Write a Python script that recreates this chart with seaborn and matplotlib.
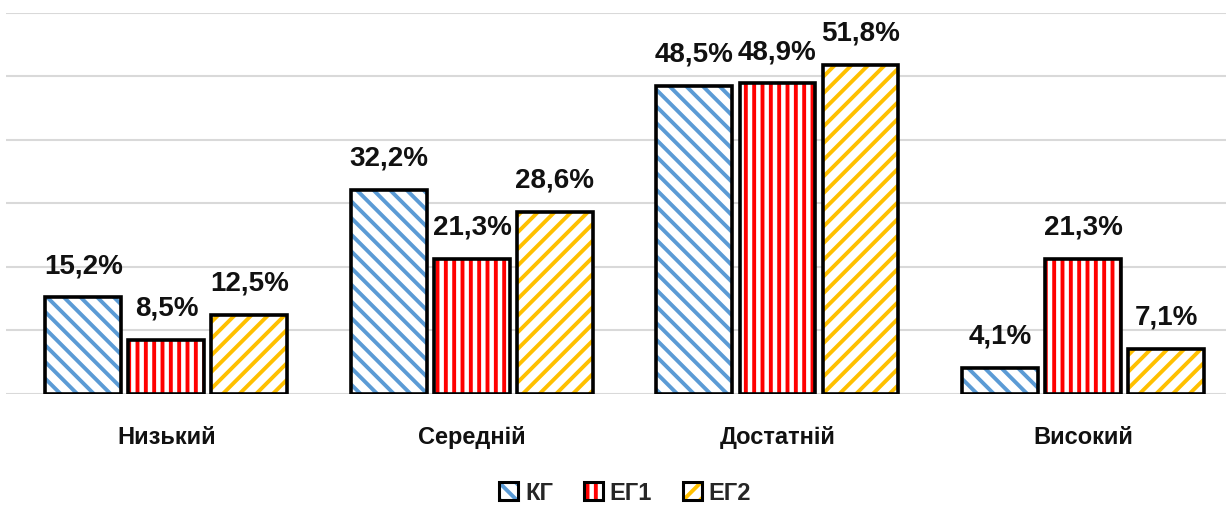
"""
plot.py
-------
Grouped bar chart of achievement levels (КГ / ЕГ1 / ЕГ2) with hatched bars.
Run: python plot.py
"""

import matplotlib
matplotlib.use("Agg")
import matplotlib.pyplot as plt
from matplotlib.patches import Patch
from matplotlib.legend_handler import HandlerTuple
import pandas as pd
import seaborn as sns

# -------------------------------------------------------------------
# Data
# -------------------------------------------------------------------
levels = ["Низький", "Середній", "Достатній", "Високий"]
groups = ["КГ", "ЕГ1", "ЕГ2"]
kg_values  = [15.2, 32.2, 48.5, 4.1]
eg1_values = [8.5, 21.3, 48.9, 21.3]
eg2_values = [12.5, 28.6, 51.8, 7.1]

colors  = {"КГ": "#5B9BD5", "ЕГ1": "#FF0000", "ЕГ2": "#FFC000"}
hatches = {"КГ": "\\\\", "ЕГ1": "||", "ЕГ2": "//"}

df = pd.DataFrame({
    "level": levels * 3,
    "group": [g for g in groups for _ in levels],
    "value": kg_values + eg1_values + eg2_values,
})

# -------------------------------------------------------------------
# Style
# -------------------------------------------------------------------
sns.set_style("white")
plt.rcParams["font.family"] = ["Liberation Sans", "DejaVu Sans"]
plt.rcParams["hatch.linewidth"] = 2.8

fig = plt.figure(figsize=(12.26, 5.06), dpi=100)
ax = fig.add_axes([6 / 1226, 0.2194, 1220 / 1226, 0.7530])

# layer 1: white fill with coloured hatching
sns.barplot(data=df, x="level", y="value", hue="group", order=levels,
            hue_order=groups, width=0.815, gap=0.085, palette=colors,
            linewidth=0, legend=False, ax=ax)
for container, g in zip(ax.containers, groups):
    for bar in container:
        bar.set_facecolor("white")
        bar.set_edgecolor(colors[g])
        bar.set_hatch(hatches[g])
        bar.set_linewidth(0)
        bar.set_zorder(2)

n_first = len(ax.containers)

# layer 2: black outlines on top
sns.barplot(data=df, x="level", y="value", hue="group", order=levels,
            hue_order=groups, width=0.815, gap=0.085, palette=colors,
            fill=False, linewidth=2.6, legend=False, ax=ax)
for container in ax.containers[n_first:]:
    for bar in container:
        bar.set_edgecolor("black")
        bar.set_facecolor("none")
        bar.set_zorder(3)
    ax.bar_label(container, labels=[f"{v.get_height():.1f}%".replace(".", ",")
                                    for v in container],
                 padding=14, fontsize=20, fontweight="bold", color="#111111")

# axes cosmetics
ax.set_ylim(0, 60)
ax.set_xlim(-0.525, 3.468)
ax.set_yticks(range(0, 61, 10))
ax.yaxis.grid(True, color="#D9D9D9", linewidth=1.5)
ax.set_axisbelow(True)
ax.tick_params(axis="y", left=False, labelleft=False)
ax.tick_params(axis="x", bottom=False, pad=19)
for lbl in ax.get_xticklabels():
    lbl.set_fontweight("bold")
    lbl.set_fontsize(17)
    lbl.set_color("#111111")
for side in ["top", "right", "left", "bottom"]:
    ax.spines[side].set_visible(False)
ax.set_xlabel("")
ax.set_ylabel("")

# legend: coloured hatch + black frame per entry
handles = [(Patch(facecolor="white", edgecolor=colors[g], linewidth=0,
                  hatch=hatches[g]),
            Patch(facecolor="none", edgecolor="black", linewidth=2.2))
           for g in groups]
fig.legend(handles=handles, labels=groups, loc="center",
           bbox_to_anchor=(0.51, 0.025), ncol=3, frameon=False,
           handler_map={tuple: HandlerTuple(ndivide=1, pad=0)},
           handlelength=0.8, handleheight=0.8, handletextpad=0.3,
           columnspacing=1.3, prop={"weight": "bold", "size": 17})

fig.savefig("out.png", dpi=100)
plt.close(fig)
